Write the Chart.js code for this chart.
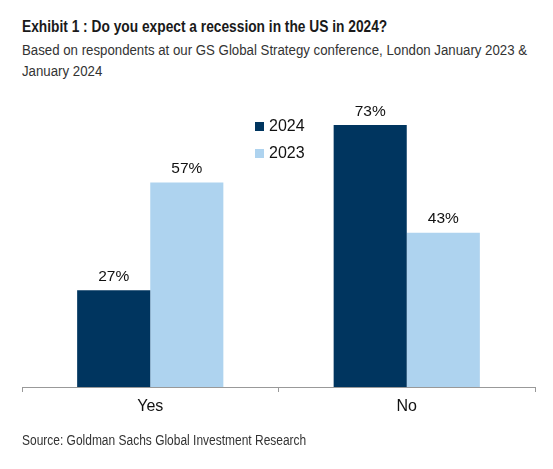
<!DOCTYPE html>
<html>
<head>
<meta charset="utf-8">
<script src="https://cdn.jsdelivr.net/npm/chart.js@4"></script>
<style>
  body { margin: 0; background: #fff; }
  #wrap { position: relative; width: 553px; height: 469px; overflow: hidden; }
  .txt { position: absolute; left: 22px; font-family: "Liberation Sans", Arial, sans-serif; color: #222; white-space: nowrap; transform-origin: left top; }
  #title { top: 17px; font-size: 16.5px; font-weight: bold; color: #1a1a1a; }
  #sub { top: 39px; font-size: 15.5px; line-height: 21px; color: #333; }
  #source { top: 432px; font-size: 14px; color: #333; }
  #legend { position: absolute; left: 255px; top: 115px; font-family: "Liberation Sans", Arial, sans-serif; font-size: 16px; color: #111; }
  #legend div { height: 27px; line-height: 22px; }
  #legend span.box { display: inline-block; width: 9px; height: 9px; margin-right: 5px; }
  canvas { position: absolute; left: 0; top: 0; }
</style>
</head>
<body>
<div id="wrap">
  <div class="txt" id="title">Exhibit 1 : Do you expect a recession in the US in 2024?</div>
  <div class="txt" id="sub">Based on respondents at our GS Global Strategy conference, London January 2023 &amp;<br>January 2024</div>
  <canvas id="myChart" width="553" height="469"></canvas>
  <div id="legend"></div>
  <div class="txt" id="source">Source: Goldman Sachs Global Investment Research</div>
</div>
<script>
const categories = ['Yes', 'No'];
const seriesNames = ['2024', '2023'];
const values2024 = [27, 73];
const values2023 = [57, 43];
const seriesColors = ['#00355F', '#AED3EF'];

// draws the % labels above each bar
const barLabels = {
  id: 'barLabels',
  afterDatasetsDraw(chart) {
    const ctx = chart.ctx;
    ctx.save();
    ctx.font = '15.5px "Liberation Sans", Arial, sans-serif';
    ctx.fillStyle = '#111';
    ctx.textAlign = 'center';
    ctx.textBaseline = 'bottom';
    chart.data.datasets.forEach((ds, i) => {
      chart.getDatasetMeta(i).data.forEach((bar, j) => {
        ctx.fillText(ds.data[j] + '%', bar.x, bar.y - 6);
      });
    });
    ctx.restore();
  }
};

function makeChart() {
  const ctx = document.getElementById('myChart');
  const myChart = new Chart(ctx, {
    type: 'bar',
    data: {
      labels: categories,
      datasets: [{
        label: seriesNames[0],
        data: values2024,
        backgroundColor: seriesColors[0]
      }, {
        label: seriesNames[1],
        data: values2023,
        backgroundColor: seriesColors[1]
      }]
    },
    options: {
      responsive: false,
      animation: false,
      layout: { padding: { left: 22, right: 18, top: 100, bottom: 49 } },
      datasets: { bar: { categoryPercentage: 0.57, barPercentage: 1.0 } },
      plugins: {
        legend: { display: false },
        tooltip: { enabled: false }
      },
      scales: {
        y: { display: false, min: 0, max: 80 },
        x: {
          afterFit: (scale) => { scale.height = 33; },
          border: { display: true, color: '#999', width: 1 },
          grid: { display: true, drawOnChartArea: false, drawTicks: true, tickLength: 5, color: '#999', offset: true },
          ticks: { color: '#111', padding: 5, font: { family: '"Liberation Sans", Arial, sans-serif', size: 16 } }
        }
      }
    },
    plugins: [barLabels]
  });
  return myChart;
}

function makeLegend() {
  const legend = document.getElementById('legend');
  seriesNames.forEach((name, i) => {
    const row = document.createElement('div');
    row.innerHTML = `<span class="box" style="background:${seriesColors[i]}"></span>${name}`;
    legend.appendChild(row);
  });
}

// the original uses a condensed face; squeeze the text to the same width
function fitText(id, width) {
  const el = document.getElementById(id);
  el.style.transform = 'scaleX(' + (width / el.offsetWidth) + ')';
}

makeChart();
makeLegend();
fitText('title', 365);
fitText('sub', 505);
fitText('source', 284);
</script>
</body>
</html>
